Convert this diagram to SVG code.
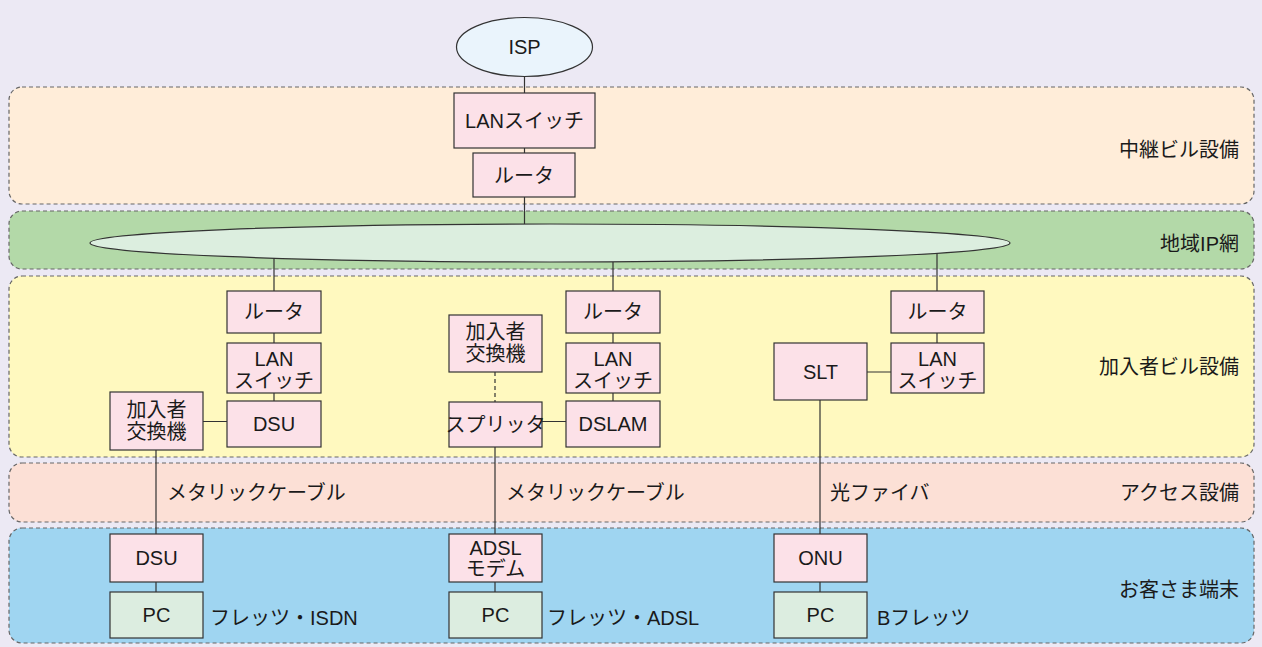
<svg xmlns="http://www.w3.org/2000/svg" width="1262" height="647" viewBox="0 0 1262 647">
<style>
text{font-family:"Liberation Sans","Noto Sans CJK JP",sans-serif;font-size:20px;fill:#1a1a1a}
.c{text-anchor:middle;dominant-baseline:central}
.l{dominant-baseline:central}
.r{text-anchor:end;dominant-baseline:central}
.band{stroke:#666;stroke-width:1.2;stroke-dasharray:4 3}
.n{fill:#FCE1E8;stroke:#333;stroke-width:1.2}
.pc{fill:#DCEDE0;stroke:#333;stroke-width:1.2}
.ln{stroke:#333;stroke-width:1.2;fill:none}
.dash{stroke-dasharray:4 3}
</style>
<rect width="1262" height="647" fill="#ECE9F4"/>
<g id="bands">
<rect class="band" x="9" y="87" width="1245" height="117" rx="13" fill="#FFEDD9"/>
<rect class="band" x="9" y="211" width="1245" height="58" rx="13" fill="#B3D9A8"/>
<rect class="band" x="9" y="276" width="1245" height="181" rx="13" fill="#FFF9BF"/>
<rect class="band" x="9" y="463" width="1245" height="59" rx="13" fill="#FCE0D6"/>
<rect class="band" x="9" y="528" width="1245" height="115" rx="13" fill="#9FD5F1"/>
<text class="r" x="1239" y="150">中継ビル設備</text>
<text class="r" x="1239" y="244">地域IP網</text>
<text class="r" x="1239" y="367">加入者ビル設備</text>
<text class="r" x="1239" y="493">アクセス設備</text>
<text class="r" x="1239" y="590">お客さま端末</text>
</g>
<g id="connectors">
<path class="ln" d="M524.5 76V93M524.5 148V153M524.5 197V225"/>
<path class="ln" d="M274 258V291M274 333V343M274 393V401M203 421.5H227"/>
<path class="ln" d="M613 262V291M613 333V343M613 393V401M542 421.5H566"/>
<path class="ln" d="M937 253V291M937 333V343M867 372H891"/>
<path class="ln dash" d="M495 372V402"/>
<path class="ln" d="M156 450V534M156 582V592"/>
<path class="ln" d="M495 447V534M495 582V592"/>
<path class="ln" d="M820 400V534M820 582V592"/>
</g>
<g id="isp"><ellipse cx="524.5" cy="47" rx="68" ry="29.5" fill="#EAF4FC" stroke="#333" stroke-width="1.2"/><text class="c" x="524.5" y="47">ISP</text></g>
<g id="lan-top"><rect class="n" x="454" y="93" width="141" height="55"/><text class="c" x="524.5" y="121">LANスイッチ</text></g>
<g id="router-top"><rect class="n" x="473" y="153" width="102" height="44"/><text class="c" x="524" y="176">ルータ</text></g>
<g id="ip-net"><ellipse cx="550" cy="243" rx="460" ry="19" fill="#DCEEDF" stroke="#333" stroke-width="1.2"/></g>

<g id="router-1"><rect class="n" x="227" y="291" width="94" height="42"/><text class="c" x="274" y="312">ルータ</text></g>
<g id="lan-1"><rect class="n" x="227" y="343" width="94" height="50"/><text class="c" x="274" y="359">LAN</text><text class="c" x="274" y="381">スイッチ</text></g>
<g id="dsu-1"><rect class="n" x="227" y="401" width="94" height="46"/><text class="c" x="274" y="424">DSU</text></g>
<g id="exch-1"><rect class="n" x="110" y="392" width="93" height="58"/><text class="c" x="156.5" y="410">加入者</text><text class="c" x="156.5" y="432">交換機</text></g>

<g id="router-2"><rect class="n" x="566" y="291" width="94" height="42"/><text class="c" x="613" y="312">ルータ</text></g>
<g id="lan-2"><rect class="n" x="566" y="343" width="94" height="50"/><text class="c" x="613" y="359">LAN</text><text class="c" x="613" y="381">スイッチ</text></g>
<g id="dslam"><rect class="n" x="566" y="401" width="94" height="46"/><text class="c" x="613" y="424">DSLAM</text></g>
<g id="exch-2"><rect class="n" x="449" y="315" width="93" height="57"/><text class="c" x="495.5" y="332">加入者</text><text class="c" x="495.5" y="354">交換機</text></g>
<g id="splitter"><rect class="n" x="449" y="402" width="93" height="45"/><text class="c" x="495.5" y="424.5">スプリッタ</text></g>

<g id="router-3"><rect class="n" x="891" y="291" width="93" height="42"/><text class="c" x="937.5" y="312">ルータ</text></g>
<g id="lan-3"><rect class="n" x="891" y="343" width="93" height="50"/><text class="c" x="937.5" y="359">LAN</text><text class="c" x="937.5" y="381">スイッチ</text></g>
<g id="slt"><rect class="n" x="774" y="343" width="93" height="57"/><text class="c" x="820.5" y="371.5">SLT</text></g>

<g id="dsu-2"><rect class="n" x="110" y="534" width="93" height="48"/><text class="c" x="156.5" y="558">DSU</text></g>
<g id="pc-1"><rect class="pc" x="110" y="592" width="93" height="46"/><text class="c" x="156.5" y="615">PC</text></g>
<g id="modem"><rect class="n" x="449" y="534" width="93" height="48"/><text class="c" x="495.5" y="548">ADSL</text><text class="c" x="495.5" y="569">モデム</text></g>
<g id="pc-2"><rect class="pc" x="449" y="592" width="93" height="46"/><text class="c" x="495.5" y="615">PC</text></g>
<g id="onu"><rect class="n" x="774" y="534" width="93" height="48"/><text class="c" x="820.5" y="558">ONU</text></g>
<g id="pc-3"><rect class="pc" x="774" y="592" width="93" height="46"/><text class="c" x="820.5" y="615">PC</text></g>

<g id="labels">
<text class="l" x="167" y="493">メタリックケーブル</text>
<text class="l" x="506" y="493">メタリックケーブル</text>
<text class="l" x="830" y="493">光ファイバ</text>
<text class="l" x="210" y="618">フレッツ・ISDN</text>
<text class="l" x="547" y="618">フレッツ・ADSL</text>
<text class="l" x="877" y="618">Bフレッツ</text>
</g>
</svg>
